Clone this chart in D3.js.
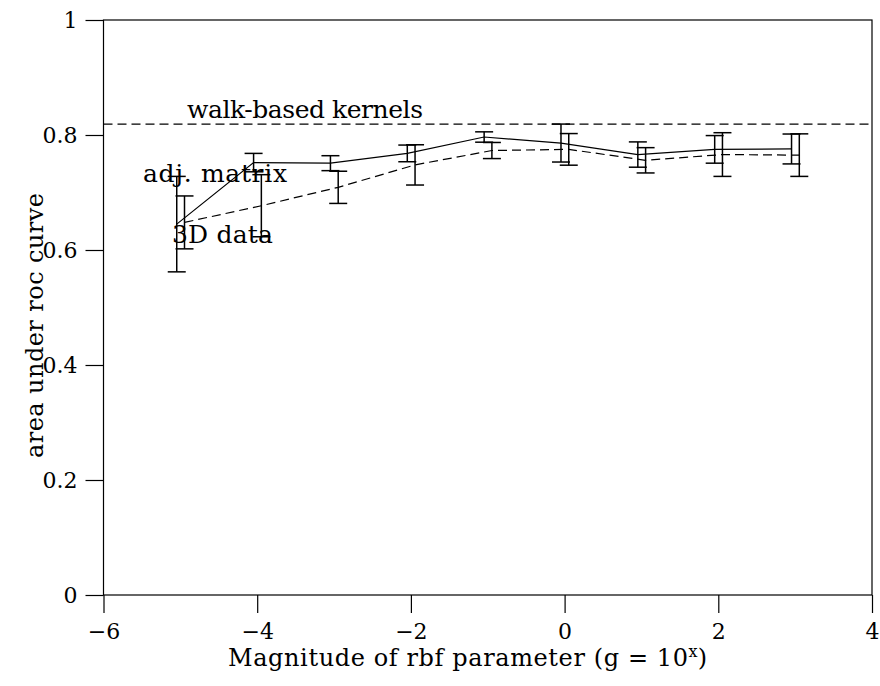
<!DOCTYPE html>
<html>
<head>
<meta charset="utf-8">
<script src="https://cdn.jsdelivr.net/npm/d3@7"></script>
<style>
  body { margin: 0; background: #fff; }
  text { font-family: "DejaVu Serif", serif; fill: #000; }
</style>
</head>
<body>
<svg id="chart" width="880" height="686"></svg>
<script>
// rbf exponent x (g = 10^x)
const exponents = [-5, -4, -3, -2, -1, 0, 1, 2, 3];

// adj. matrix (solid)
const adjMean = [0.645, 0.752, 0.751, 0.768, 0.7965, 0.786, 0.766, 0.775, 0.7757];
const adjErr = [0.083, 0.016, 0.013, 0.0145, 0.009, 0.033, 0.022, 0.024, 0.026];

// 3D data (dashed)
const dataMean = [0.648, 0.677, 0.709, 0.748, 0.773, 0.775, 0.756, 0.766, 0.765];
const dataErr = [0.046, 0.054, 0.028, 0.035, 0.014, 0.0275, 0.022, 0.038, 0.037];

// walk-based kernels reference level
const walkValue = 0.819;

const xTicks = [-6, -4, -2, 0, 2, 4];
const yTicks = [0, 0.2, 0.4, 0.6, 0.8, 1];

const svg = d3.select("#chart");
const plot = { left: 103.5, right: 872, top: 20, bottom: 595 };
const tickLen = 18;
const capHalf = 9;
const fontSize = "22px";

const x = d3.scaleLinear().domain([-6, 4]).range([plot.left, plot.right]);
const y = d3.scaleLinear().domain([0, 1]).range([plot.bottom, plot.top]);

const fmt = d => d === 0 || d === 1 ? String(d) : d.toFixed(1);
const fmtX = d => d < 0 ? "\u2212" + Math.abs(d) : String(d);

// frame
svg.append("rect")
    .attr("x", plot.left).attr("y", plot.top)
    .attr("width", plot.right - plot.left).attr("height", plot.bottom - plot.top)
    .attr("fill", "none").attr("stroke", "#000").attr("stroke-width", 1.2);

// axes with outward ticks
const xAxis = svg.append("g").attr("transform", `translate(0,${plot.bottom})`)
    .call(d3.axisBottom(x).tickValues(xTicks).tickSize(tickLen).tickPadding(7).tickFormat(fmtX));
const yAxis = svg.append("g").attr("transform", `translate(${plot.left},0)`)
    .call(d3.axisLeft(y).tickValues(yTicks).tickSize(tickLen).tickPadding(8).tickFormat(fmt));

[xAxis, yAxis].forEach(g => {
    g.select(".domain").remove();
    g.selectAll("line").attr("stroke", "#000").attr("stroke-width", 1.2);
    g.selectAll("text").style("font-family", "DejaVu Serif, serif").style("font-size", fontSize).attr("fill", "#000");
});
xAxis.selectAll("text").attr("dy", "0.85em");

// walk-based kernels line
svg.append("line")
    .attr("x1", x(-6)).attr("x2", x(4))
    .attr("y1", y(walkValue)).attr("y2", y(walkValue))
    .attr("stroke", "#000").attr("stroke-width", 1.2)
    .attr("stroke-dasharray", "9,5");

function drawSeries(means, errs, offset, dash) {
    const pts = exponents.map((e, i) => ({ x: e + offset, m: means[i], s: errs[i] }));
    const line = d3.line().x(d => x(d.x)).y(d => y(d.m));
    svg.append("path")
        .datum(pts)
        .attr("d", line)
        .attr("fill", "none")
        .attr("stroke", "#000")
        .attr("stroke-width", 1.2)
        .attr("stroke-dasharray", dash);

    const g = svg.append("g").attr("stroke", "#000").attr("stroke-width", 1.5);
    pts.forEach(d => {
        const cx = x(d.x);
        g.append("line").attr("x1", cx).attr("x2", cx)
            .attr("y1", y(d.m - d.s)).attr("y2", y(d.m + d.s));
        [d.m - d.s, d.m + d.s].forEach(v => {
            g.append("line").attr("x1", cx - capHalf).attr("x2", cx + capHalf)
                .attr("y1", y(v)).attr("y2", y(v));
        });
    });
}

drawSeries(adjMean, adjErr, -0.047, null);
drawSeries(dataMean, dataErr, 0.054, "9,5");

// in-plot labels
function label(tx, ty, str, len) {
    svg.append("text").attr("x", tx).attr("y", ty)
        .style("font-size", "25px")
        .attr("textLength", len)
        .text(str);
}
label(187, 118, "walk-based kernels", 236);
label(143, 182, "adj. matrix", 144);
label(172, 243, "3D data", 101);

// axis titles
svg.append("text")
    .attr("transform", `translate(43,${(plot.top + plot.bottom) / 2 + 18}) rotate(-90)`)
    .attr("text-anchor", "middle")
    .attr("textLength", 265)
    .style("font-size", "24px")
    .text("area under roc curve");

const xl = svg.append("text")
    .attr("x", 228).attr("y", 666)
    .style("font-size", "24px");
xl.append("tspan").attr("textLength", 460).text("Magnitude of rbf parameter (g = 10");
xl.append("tspan").attr("dy", -9).style("font-size", "16px").text("x");
xl.append("tspan").attr("dy", 9).text(")");
</script>
</body>
</html>
